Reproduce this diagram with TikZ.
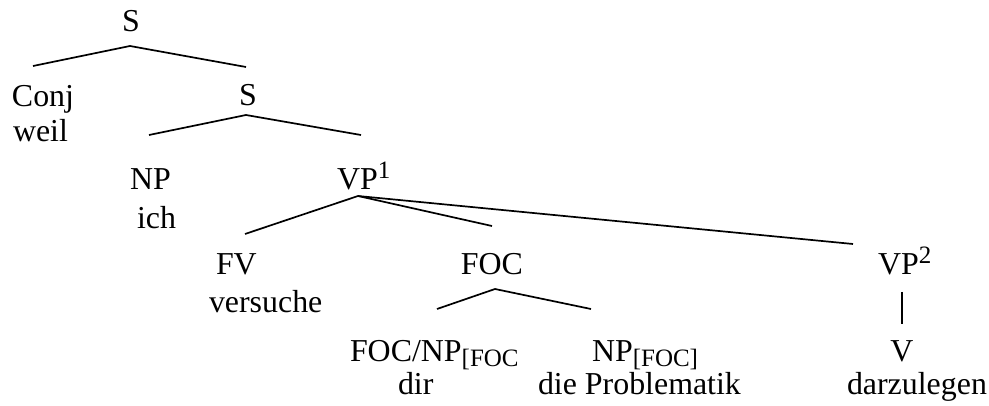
\documentclass[tikz,border=0pt]{standalone}
\usepackage{fontspec}
\setmainfont{Liberation Serif}
\newcommand{\bigtxt}{\fontsize{31.9}{36}\selectfont}
\newcommand{\smalltxt}{\fontsize{25}{30}\selectfont}
\newcommand{\subtxt}[1]{\raisebox{-4.5pt}{\smalltxt #1}}
\newcommand{\suptxt}[1]{\raisebox{11pt}{\smalltxt #1}}
\begin{document}
\begin{tikzpicture}[x=1pt,y=-1pt,
  lbl/.style={inner sep=0pt,outer sep=0pt,font=\bigtxt},
  lw/.style={lbl,anchor=base west},
  lc/.style={lbl,anchor=base},
  branch/.style={line width=1.7pt,line cap=butt}]
\useasboundingbox (0,0) rectangle (989,406);
% labels
\node[lc] (s1) at (131,32) {S};
\node[lw] (conj) at (12,107) {Conj};
\node[lw] (weil) at (13,142) {weil};
\node[lc] (s2) at (248,106) {S};
\node[lw] (np) at (130,190) {NP};
\node[lw] (ich) at (137,229) {ich};
\node[lw] (vp1) at (337,190) {VP\suptxt{1}};
\node[lw] (fv) at (216,275) {FV};
\node[lw] (versuche) at (209,313) {versuche};
\node[lc] (foc) at (492,275) {FOC};
\node[lw] (focnp) at (350,362) {FOC/NP\subtxt{[FOC}};
\node[lw] (dir) at (398,395) {dir};
\node[lw] (npfoc) at (592,362) {NP\subtxt{[FOC]}};
\node[lw] (prob) at (538,395) {die Problematik};
\node[lw] (vp2) at (878,275) {VP\suptxt{2}};
\node[lc] (v) at (902,362) {V};
\node[lw] (darz) at (847,395) {darzulegen};
% branch points
\coordinate (s1b) at (130,46);
\coordinate (conjt) at (33,66);
\coordinate (s2t) at (246,67);
\coordinate (s2b) at (246,115);
\coordinate (npt) at (149,135);
\coordinate (vp1t) at (361,135);
\coordinate (vp1b) at (358,196);
\coordinate (fvt) at (245,234);
\coordinate (foct) at (492,226);
\coordinate (vp2t) at (853,244);
\coordinate (focb) at (495,289);
\coordinate (focnpt) at (437,309);
\coordinate (npfoct) at (591,309);
\coordinate (vp2b) at (902,292);
\coordinate (vt) at (902,324);
% connectors
\draw[branch] (conjt) -- (s1b) -- (s2t);
\draw[branch] (npt) -- (s2b) -- (vp1t);
\draw[branch] (fvt) -- (vp1b) -- (foct);
\draw[branch] (vp1b) -- (vp2t);
\draw[branch] (focnpt) -- (focb) -- (npfoct);
\draw[branch] (vp2b) -- (vt);
\end{tikzpicture}
\end{document}
